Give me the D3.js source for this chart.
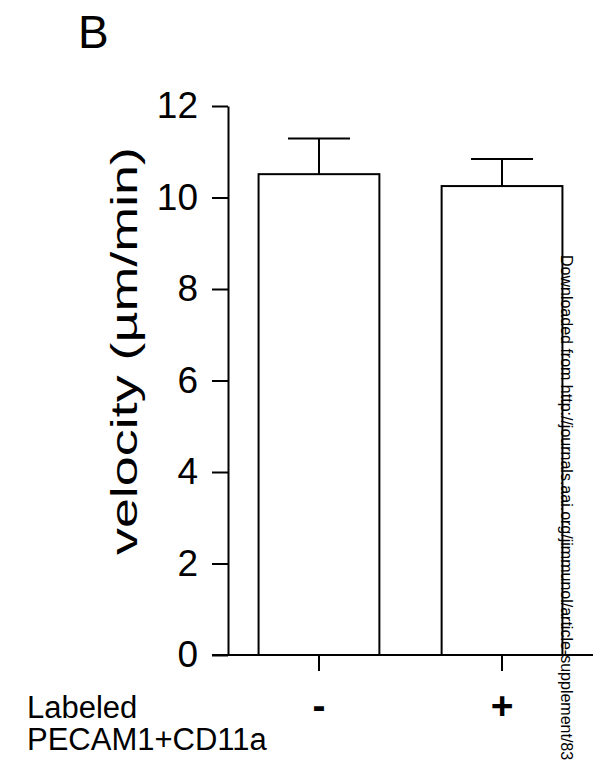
<!doctype html>
<html lang="en">
<head>
<meta charset="utf-8">
<title>velocity bar chart</title>
<script src="https://cdn.jsdelivr.net/npm/d3@7"></script>
<style>
  body { margin: 0; background: #fff; }
  svg { display: block; font-family: "Liberation Sans", Arial, sans-serif; }
</style>
</head>
<body>
<div id="chart"></div>
<script>
// data
var groups = ["-", "+"];
var means = [10.51, 10.25];
var errs = [0.78, 0.59];
var yTicks = [0, 2, 4, 6, 8, 10, 12];

var width = 601, height = 765;
var svg = d3.select("#chart").append("svg")
  .attr("width", width)
  .attr("height", height);

var x = d3.scaleBand()
  .domain(groups)
  .range([228, 593])
  .paddingInner(0.34)
  .paddingOuter(0.167);

var y = d3.scaleLinear()
  .domain([0, 12])
  .range([655, 106]);

var data = groups.map(function(g, i) {
  return { g: g, mean: means[i], err: errs[i] };
});

// panel letter
svg.append("text")
  .attr("x", 78)
  .attr("y", 48)
  .attr("font-size", 46)
  .text("B");

// y axis
var yAxis = d3.axisLeft(y)
  .tickValues(yTicks)
  .tickSize(16)
  .tickSizeOuter(0)
  .tickPadding(14);

var gy = svg.append("g")
  .attr("transform", "translate(228,0)")
  .call(yAxis);
gy.selectAll("path, line").attr("stroke", "#000").attr("stroke-width", 2);
gy.selectAll("text")
  .attr("font-size", 37)
  .attr("fill", "#000")
  .attr("font-family", "Liberation Sans, Arial, sans-serif");

// y title (stretched in the original)
svg.append("text")
  .attr("transform", "translate(137,351) rotate(-90)")
  .attr("text-anchor", "middle")
  .attr("font-size", 37)
  .attr("textLength", 408)
  .attr("lengthAdjust", "spacingAndGlyphs")
  .text("velocity (\u00b5m/min)");

// bars
svg.selectAll(".bar")
  .data(data)
  .enter().append("rect")
  .attr("class", "bar")
  .attr("x", function(d) { return x(d.g); })
  .attr("y", function(d) { return y(d.mean); })
  .attr("width", x.bandwidth())
  .attr("height", function(d) { return y(0) - y(d.mean); })
  .attr("fill", "#fff")
  .attr("stroke", "#000")
  .attr("stroke-width", 2);

// error bars (upper only)
var capHalf = 31;
svg.selectAll(".err")
  .data(data)
  .enter().append("line")
  .attr("class", "err")
  .attr("x1", function(d) { return x(d.g) + x.bandwidth() / 2; })
  .attr("x2", function(d) { return x(d.g) + x.bandwidth() / 2; })
  .attr("y1", function(d) { return y(d.mean); })
  .attr("y2", function(d) { return y(d.mean + d.err); })
  .attr("stroke", "#000")
  .attr("stroke-width", 2);

svg.selectAll(".cap")
  .data(data)
  .enter().append("line")
  .attr("class", "cap")
  .attr("x1", function(d) { return x(d.g) + x.bandwidth() / 2 - capHalf; })
  .attr("x2", function(d) { return x(d.g) + x.bandwidth() / 2 + capHalf; })
  .attr("y1", function(d) { return y(d.mean + d.err); })
  .attr("y2", function(d) { return y(d.mean + d.err); })
  .attr("stroke", "#000")
  .attr("stroke-width", 2);

// x axis
var xAxis = d3.axisBottom(x)
  .tickSize(16)
  .tickSizeOuter(0)
  .tickPadding(20);

var gx = svg.append("g")
  .attr("transform", "translate(0," + y(0) + ")")
  .call(xAxis);
gx.select(".domain").remove();
gx.selectAll("line").attr("stroke", "#000").attr("stroke-width", 2);
gx.selectAll("text")
  .attr("font-size", 39)
  .attr("font-weight", "bold")
  .attr("fill", "#000")
  .attr("font-family", "Liberation Sans, Arial, sans-serif");
gx.append("line")
  .attr("x1", 228 - 16)
  .attr("x2", x.range()[1])
  .attr("stroke", "#000")
  .attr("stroke-width", 2);

// row labels
svg.append("text")
  .attr("x", 27)
  .attr("y", 718)
  .attr("font-size", 31)
  .text("Labeled");
svg.append("text")
  .attr("x", 27)
  .attr("y", 750)
  .attr("font-size", 31)
  .text("PECAM1+CD11a");

// watermark along the right edge
svg.append("text")
  .attr("transform", "translate(561,255) rotate(90)")
  .attr("font-size", 16)
  .text("Downloaded from http://journals.aai.org/jimmunol/article-supplement/83");
</script>
</body>
</html>
